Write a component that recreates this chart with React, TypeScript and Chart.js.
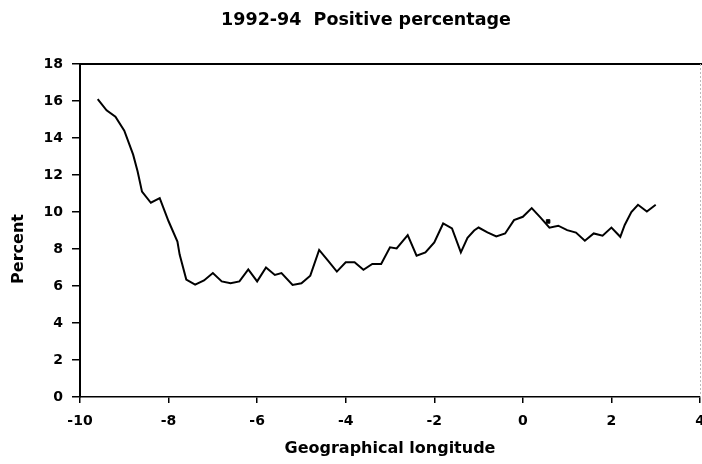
import React, { useEffect, useRef } from "react";
import { Chart, registerables } from "chart.js";

Chart.register(...registerables);

const TITLE = "1992-94  Positive percentage";
const X_TITLE = "Geographical longitude";
const Y_TITLE = "Percent";

const longitude = [
  -9.6, -9.4, -9.2, -9.0, -8.8, -8.7, -8.6, -8.4, -8.2, -8.0, -7.8, -7.75, -7.6, -7.4, -7.2, -7.0,
  -6.8, -6.6, -6.4, -6.2, -6.0, -5.8, -5.6, -5.45, -5.2, -5.0, -4.8, -4.6, -4.4, -4.2, -4.0, -3.8,
  -3.6, -3.4, -3.2, -3.0, -2.85, -2.6, -2.4, -2.2, -2.0, -1.8, -1.6, -1.4, -1.25, -1.1, -1.0, -0.8,
  -0.6, -0.4, -0.2, 0.0, 0.2, 0.4, 0.6, 0.8, 1.0, 1.2, 1.4, 1.6, 1.8, 2.0, 2.2, 2.3, 2.45, 2.6,
  2.8, 3.0,
];
const percent = [
  16.1, 15.5, 15.15, 14.4, 13.1, 12.2, 11.1, 10.5, 10.75, 9.5, 8.4, 7.7, 6.35, 6.07, 6.3, 6.7,
  6.25, 6.15, 6.25, 6.9, 6.25, 7.0, 6.6, 6.7, 6.06, 6.15, 6.56, 7.95, 7.37, 6.78, 7.28, 7.28,
  6.88, 7.19, 7.19, 8.09, 8.03, 8.75, 7.64, 7.82, 8.36, 9.38, 9.11, 7.82, 8.6, 9.0, 9.16, 8.9,
  8.68, 8.84, 9.56, 9.74, 10.21, 9.7, 9.15, 9.26, 9.02, 8.89, 8.45, 8.84, 8.72, 9.16, 8.66, 9.3,
  10.0, 10.39, 10.03, 10.39,
];
const markerLongitude = [0.57];
const markerPercent = [9.49];

const X_MIN = -10;
const X_MAX = 4;
const X_STEP = 2;
const Y_MIN = 0;
const Y_MAX = 18;
const Y_STEP = 2;

const framePlugin = {
  id: "refFrame",
  afterDraw(chart: any) {
    const { ctx, chartArea } = chart;
    ctx.save();
    ctx.strokeStyle = "#000";
    ctx.lineWidth = 2;
    ctx.beginPath();
    ctx.moveTo(chartArea.left, chartArea.top);
    ctx.lineTo(chartArea.right + 2, chartArea.top);
    ctx.stroke();
    ctx.strokeStyle = "#bbb";
    ctx.lineWidth = 1;
    ctx.setLineDash([2, 2]);
    ctx.beginPath();
    ctx.moveTo(chartArea.right + 0.5, chartArea.top);
    ctx.lineTo(chartArea.right + 0.5, chartArea.bottom);
    ctx.stroke();
    ctx.setLineDash([]);
    ctx.fillStyle = "#000";
    ctx.textAlign = "center";
    ctx.textBaseline = "middle";
    ctx.font = 'bold 17.5px "DejaVu Sans"';
    ctx.fillText(TITLE, 366, 20);
    ctx.translate(19, 249);
    ctx.rotate(-Math.PI / 2);
    ctx.font = 'bold 16px "DejaVu Sans"';
    ctx.fillText(Y_TITLE, 0, 0);
    ctx.restore();
  },
};

export default function App() {
  const ref = useRef<HTMLCanvasElement | null>(null);
  useEffect(() => {
    document.body.style.margin = "0";
    if (!ref.current) return;
    const chart = new Chart(ref.current, {
      type: "line",
      data: {
        datasets: [
          {
            data: longitude.map((x, i) => ({ x, y: percent[i] })),
            borderColor: "#000",
            borderWidth: 2,
            pointRadius: 0,
            tension: 0,
          },
          {
            data: markerLongitude.map((x, i) => ({ x, y: markerPercent[i] })),
            showLine: false,
            pointStyle: "rect",
            pointRadius: 2.5,
            backgroundColor: "#000",
            borderColor: "#000",
          },
        ],
      },
      options: {
        animation: false,
        responsive: false,
        devicePixelRatio: 1,
        layout: { padding: { top: 64, right: 2, left: 0, bottom: 0 }, autoPadding: false },
        plugins: { legend: { display: false }, tooltip: { enabled: false }, title: { display: false } },
        scales: {
          x: {
            type: "linear",
            min: X_MIN,
            max: X_MAX,
            afterFit: (s: any) => {
              s.height = 67;
              s.paddingLeft = 0;
              s.paddingRight = 0;
            },
            ticks: {
              stepSize: X_STEP,
              padding: 10,
              color: "#000",
              font: { family: "DejaVu Sans", size: 14, weight: "bold" },
              maxRotation: 0,
            },
            grid: { drawOnChartArea: false, drawTicks: true, tickLength: 6, color: "#000", lineWidth: 1.5 },
            border: { display: true, color: "#000", width: 1.5 },
            title: {
              display: true,
              text: X_TITLE,
              color: "#000",
              font: { family: "DejaVu Sans", size: 16, weight: "bold" },
              padding: { top: 0, bottom: 6 },
            },
          },
          y: {
            type: "linear",
            min: Y_MIN,
            max: Y_MAX,
            afterFit: (s: any) => {
              s.width = 80;
              s.paddingTop = 0;
              s.paddingBottom = 0;
            },
            ticks: {
              stepSize: Y_STEP,
              padding: 9,
              color: "#000",
              font: { family: "DejaVu Sans", size: 14, weight: "bold" },
            },
            grid: { drawOnChartArea: false, drawTicks: true, tickLength: 8, color: "#000", lineWidth: 1.5 },
            border: { display: true, color: "#000", width: 2 },
          },
        },
      },
      plugins: [framePlugin],
    });
    return () => chart.destroy();
  }, []);
  return (
    <div style={{ width: 702, height: 464, background: "#fff" }}>
      <canvas ref={ref} width={702} height={464} style={{ width: 702, height: 464, display: "block" }} />
    </div>
  );
}
